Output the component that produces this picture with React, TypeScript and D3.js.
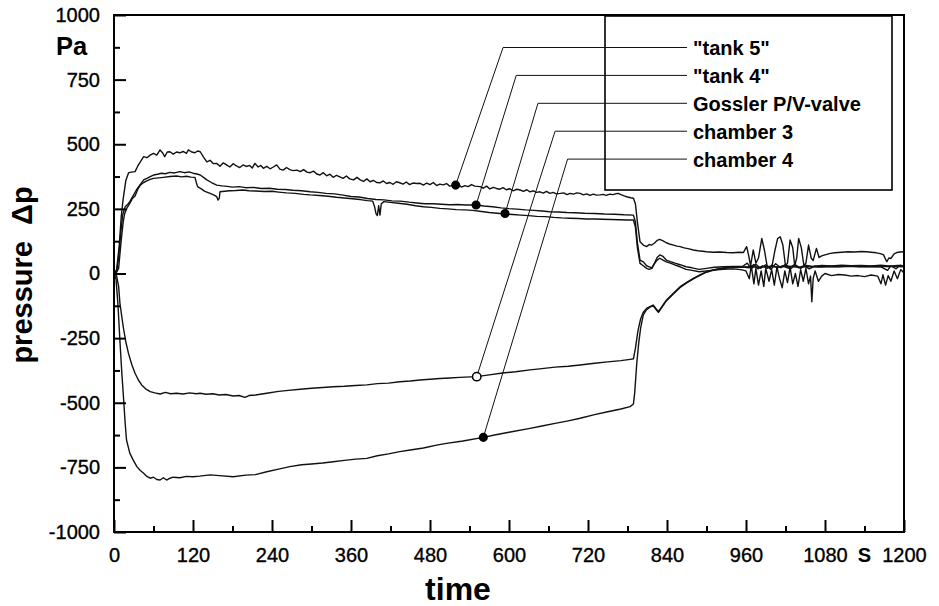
import React, { useEffect, useRef } from 'react';
import * as d3 from 'd3';

type Pt = [number, number];

// time (s), pressure (Pa)
const tank5: Pt[] = [
  [0, 0], [4, 15], [8, 110], [11, 220], [14, 290], [18, 360], [22, 389], [26, 392], [32, 394], [36, 415],
  [40, 432], [45, 452], [50, 448], [55, 458], [60, 465], [65, 458], [70, 478], [74, 466], [77, 452], [81, 470],
  [85, 471], [90, 462], [95, 470], [100, 467], [105, 472], [110, 465], [113, 478], [118, 470], [123, 467], [127, 474],
  [131, 471], [136, 450], [141, 432], [146, 438], [151, 425], [156, 426], [161, 415], [166, 428], [171, 420], [176, 412],
  [181, 425], [186, 416], [191, 410], [196, 420], [201, 414], [206, 418], [210, 408], [214, 426], [219, 412], [223, 418],
  [227, 407], [232, 415], [237, 405], [242, 412], [247, 420], [252, 404], [257, 400], [262, 410], [267, 402], [272, 398],
  [278, 400], [283, 394], [288, 402], [293, 392], [298, 390], [303, 396], [308, 385], [313, 381], [318, 390], [323, 378],
  [328, 384], [333, 372], [338, 380], [343, 374], [348, 368], [353, 377], [358, 366], [364, 362], [369, 372], [374, 362],
  [379, 356], [384, 366], [389, 355], [394, 360], [399, 352], [404, 351], [409, 358], [414, 348], [419, 352], [424, 345],
  [429, 355], [434, 351], [439, 346], [444, 354], [449, 344], [454, 350], [460, 348], [465, 349], [470, 342], [475, 350],
  [480, 344], [485, 352], [490, 340], [495, 346], [500, 343], [505, 348], [510, 338], [518, 342], [523, 345], [528, 334],
  [533, 340], [538, 336], [543, 344], [548, 338], [556, 336], [561, 330], [566, 338], [571, 327], [576, 333], [581, 329],
  [586, 326], [591, 332], [596, 324], [601, 328], [606, 320], [612, 326], [617, 323], [622, 318], [627, 324], [632, 316],
  [637, 320], [642, 314], [647, 316], [652, 311], [657, 318], [662, 310], [667, 314], [672, 308], [678, 310], [683, 312],
  [688, 305], [693, 310], [698, 307], [703, 312], [708, 310], [713, 304], [718, 308], [723, 302], [728, 307], [733, 303],
  [738, 304], [743, 306], [748, 302], [753, 307], [758, 305], [763, 309], [766, 310], [770, 305], [775, 300], [780, 296],
  [785, 293], [789, 291], [792, 270], [795, 200], [799, 123], [804, 110], [809, 104], [813, 112], [817, 110], [821, 118],
  [825, 128], [829, 132], [834, 126], [839, 119], [845, 113], [850, 110], [855, 106], [860, 104], [866, 99], [872, 96],
  [880, 91], [887, 88], [894, 86], [900, 84], [910, 82], [920, 83], [931, 81], [940, 80], [950, 82], [956, 81],
  [959, 95], [961, 104], [964, 70], [967, 30], [971, 91], [975, 40], [979, 60], [984, 136], [988, 90], [992, 30],
  [996, 20], [1000, 35], [1004, 90], [1008, 135], [1012, 142], [1016, 110], [1020, 30], [1023, 40], [1027, 130], [1031, 100],
  [1034, 30], [1037, 60], [1040, 136], [1044, 100], [1048, 30], [1051, 40], [1055, 110], [1059, 60], [1062, 50], [1067, 97],
  [1071, 62], [1075, 68], [1080, 72], [1088, 78], [1095, 80], [1105, 82], [1115, 84], [1125, 83], [1135, 85], [1143, 84],
  [1150, 82], [1158, 80], [1164, 77], [1169, 72], [1172, 55], [1174, 46], [1177, 60], [1180, 58], [1185, 76], [1189, 81],
  [1194, 83], [1199, 84],
];

const tank4: Pt[] = [
  [0, 0], [4, 8], [7, 60], [10, 150], [13, 225], [17, 258], [21, 268], [24, 278], [29, 300], [34, 323],
  [40, 345], [45, 362], [50, 368], [55, 375], [60, 381], [66, 384], [72, 388], [78, 386], [85, 391], [92, 389],
  [100, 394], [107, 390], [114, 393], [120, 388], [126, 385], [131, 381], [136, 372], [141, 362], [148, 352], [156, 342],
  [164, 339], [172, 337], [180, 334], [190, 336], [200, 332], [212, 333], [224, 329], [236, 330], [248, 326], [260, 325],
  [272, 322], [285, 320], [298, 316], [310, 314], [322, 310], [335, 308], [348, 303], [360, 298], [372, 296], [385, 290],
  [398, 286], [410, 285], [422, 281], [435, 280], [448, 276], [460, 273], [472, 270], [485, 270], [497, 268], [510, 266],
  [522, 267], [535, 265], [550, 265], [562, 261], [575, 258], [588, 254], [600, 251], [612, 249], [625, 246], [638, 244],
  [650, 242], [662, 239], [675, 238], [688, 236], [700, 235], [715, 233], [730, 232], [745, 230], [760, 229], [775, 227],
  [789, 226], [792, 200], [795, 120], [799, 52], [804, 45], [809, 30], [813, 26], [817, 22], [821, 40], [825, 62],
  [829, 72], [834, 66], [839, 52], [845, 46], [852, 40], [860, 34], [869, 26], [878, 22], [889, 16], [900, 20],
  [912, 24], [925, 26], [940, 27], [955, 28], [962, 40], [968, 18], [975, 36], [982, 20], [990, 34], [998, 16],
  [1005, 38], [1013, 22], [1020, 36], [1028, 18], [1035, 34], [1043, 20], [1050, 32], [1060, 27], [1075, 31], [1090, 29],
  [1105, 32], [1120, 30], [1135, 31], [1150, 29], [1165, 32], [1180, 28], [1190, 31], [1199, 30],
];

const gossler: Pt[] = [
  [0, 0], [4, 5], [7, 20], [11, 130], [14, 200], [16, 230], [20, 255], [24, 271], [28, 290], [32, 300],
  [36, 325], [40, 342], [45, 352], [50, 358], [55, 364], [60, 368], [68, 370], [75, 372], [85, 375], [95, 377],
  [103, 374], [110, 376], [117, 373], [123, 372], [125, 352], [127, 336], [132, 328], [138, 318], [146, 310], [152, 303],
  [156, 297], [158, 284], [160, 292], [161, 316], [168, 318], [176, 320], [185, 321], [196, 323], [205, 320], [215, 319],
  [228, 317], [240, 318], [250, 315], [262, 312], [275, 310], [288, 306], [298, 304], [312, 302], [325, 299], [338, 295],
  [350, 292], [362, 289], [374, 286], [385, 282], [393, 280], [396, 256], [398, 232], [400, 224], [402, 262], [404, 226],
  [406, 270], [410, 278], [420, 275], [432, 272], [445, 268], [458, 262], [470, 258], [482, 256], [495, 252], [507, 250],
  [520, 247], [532, 246], [545, 244], [558, 240], [570, 236], [582, 233], [594, 230], [606, 228], [618, 226], [630, 224],
  [642, 221], [655, 220], [668, 217], [680, 215], [692, 214], [705, 213], [718, 211], [730, 211], [742, 210], [755, 209],
  [768, 208], [780, 207], [789, 207], [792, 180], [795, 100], [799, 39], [804, 30], [809, 20], [813, 16], [817, 20],
  [821, 38], [825, 52], [829, 59], [834, 52], [839, 45], [845, 40], [852, 33], [860, 26], [869, 16], [878, 12],
  [889, 7], [900, 10], [912, 13], [925, 16], [940, 18], [952, 15], [960, 10], [965, -20], [968, 30], [972, -40],
  [975, 20], [979, -45], [983, 10], [987, -50], [990, 20], [995, -30], [999, 15], [1003, -45], [1007, 25], [1011, -20],
  [1015, -55], [1019, 10], [1023, -35], [1027, 25], [1031, -40], [1035, 0], [1039, -50], [1043, 15], [1047, -30], [1051, 20],
  [1055, -40], [1058, -10], [1060, -109], [1062, -20], [1065, 10], [1070, -30], [1075, -10], [1080, 0], [1090, -8], [1100, -4],
  [1110, -6], [1120, -10], [1130, -8], [1140, -12], [1150, -6], [1160, -10], [1165, -40], [1168, -5], [1172, -45], [1176, -8],
  [1180, -30], [1185, 10], [1190, -20], [1195, 15], [1199, 5],
];

const chamber3: Pt[] = [
  [0, 0], [4, -10], [7, -50], [9, -115], [12, -170], [14, -206], [18, -265], [22, -309], [27, -352], [32, -386],
  [37, -412], [42, -431], [48, -446], [55, -457], [62, -462], [70, -466], [78, -460], [86, -465], [95, -463], [105, -466],
  [115, -462], [125, -465], [131, -463], [140, -467], [150, -465], [160, -470], [170, -468], [181, -474], [190, -472], [199, -479],
  [205, -472], [215, -470], [232, -463], [250, -456], [265, -452], [283, -448], [300, -444], [317, -441], [333, -438], [350, -436],
  [367, -433], [384, -431], [400, -426], [417, -424], [434, -419], [450, -416], [465, -412], [480, -409], [495, -406], [510, -404],
  [525, -402], [551, -399], [570, -392], [590, -385], [610, -380], [632, -373], [650, -368], [670, -362], [690, -359], [708, -354],
  [730, -347], [750, -342], [770, -337], [784, -332], [789, -330], [792, -290], [796, -220], [800, -175], [804, -150], [809, -135],
  [814, -128], [819, -122], [823, -135], [827, -148], [833, -125], [839, -103], [850, -75], [860, -51], [870, -34], [880, -19],
  [890, -5], [900, 7], [910, 14], [920, 20], [935, 24], [950, 26], [965, 22], [972, 35], [978, 18], [985, 30],
  [992, 20], [1000, 32], [1008, 22], [1016, 30], [1025, 20], [1033, 34], [1040, 22], [1048, 30], [1056, 18], [1064, 28],
  [1075, 26], [1090, 28], [1105, 27], [1120, 29], [1135, 27], [1150, 28], [1165, 26], [1175, 12], [1180, 30], [1188, 18],
  [1194, 32], [1199, 28],
];

const chamber4: Pt[] = [
  [0, 0], [3, -20], [6, -120], [9, -260], [12, -390], [14, -463], [17, -580], [19, -644], [24, -695], [29, -721],
  [35, -748], [40, -762], [45, -773], [50, -785], [55, -792], [60, -788], [65, -797], [70, -799], [75, -790], [80, -799],
  [85, -792], [90, -788], [100, -790], [110, -785], [120, -786], [130, -784], [146, -779], [160, -782], [181, -786], [200, -780],
  [215, -778], [232, -767], [250, -757], [267, -747], [285, -740], [300, -737], [317, -733], [333, -728], [350, -723], [367, -718],
  [384, -715], [400, -705], [417, -698], [434, -689], [450, -683], [470, -675], [490, -664], [505, -657], [530, -648], [561, -634],
  [580, -624], [600, -614], [632, -599], [650, -590], [670, -580], [690, -570], [708, -560], [730, -546], [750, -535], [770, -524],
  [784, -515], [789, -505], [791, -460], [794, -350], [797, -270], [800, -210], [804, -160], [809, -140], [814, -130], [819, -125],
  [823, -138], [827, -150], [833, -128], [839, -106], [850, -78], [860, -54], [870, -36], [880, -21], [890, -7], [900, 5],
  [910, 12], [920, 18], [935, 22], [950, 24], [965, 26], [980, 24], [995, 27], [1010, 25], [1025, 28], [1040, 24],
  [1055, 27], [1070, 25], [1085, 27], [1100, 26], [1115, 28], [1130, 26], [1145, 27], [1160, 26], [1175, 28], [1190, 27],
  [1199, 26],
];

const seriesNames = ['"tank 5"', '"tank 4"', 'Gossler P/V-valve', 'chamber 3', 'chamber 4'];
const markTime = [519, 550, 594, 551, 561];
const markPressure = [342, 265, 232, -399, -634];
const elbowTime = [591, 611, 644, 670, 689];
const markOpen = [false, false, false, true, false];

const yMajor = [-1000, -750, -500, -250, 0, 250, 500, 750, 1000];
const yMinor = [-875, -625, -375, -125, 125, 375, 625, 875];
const xMajor = [0, 120, 240, 360, 480, 600, 720, 840, 960, 1080, 1200];
const xMinor = [60, 180, 300, 420, 540, 660, 780, 900, 1020, 1140];

const font = '"Liberation Sans", Arial, Helvetica, sans-serif';

export default function App() {
  const svgRef = useRef<SVGSVGElement>(null);

  useEffect(() => {
    const svg = d3.select(svgRef.current);
    svg.selectAll('*').remove();

    const x = d3.scaleLinear().domain([0, 1200]).range([114, 904]);
    const y = d3.scaleLinear().domain([-1000, 1000]).range([532, 15]);

    // curves
    const line = d3.line<Pt>().x(d => x(d[0])).y(d => y(d[1]));
    const curves = svg.append('g');
    [tank5, tank4, gossler, chamber3, chamber4].forEach(s => {
      curves.append('path')
        .attr('d', line(s))
        .attr('fill', 'none')
        .attr('stroke', '#111')
        .attr('stroke-width', 1.4)
        .attr('stroke-linejoin', 'round');
    });

    // axes, ticks pointing inward
    const axisStyle = (g: any) => {
      g.select('.domain').remove();
      g.selectAll('line').attr('stroke', '#000').attr('stroke-width', 2);
      g.selectAll('text')
        .attr('font-family', font).attr('font-size', 20).attr('fill', '#000')
        .attr('stroke', '#000').attr('stroke-width', 0.35);
    };
    const fmt = (d: any) => String(d);
    svg.append('g').attr('transform', 'translate(114,0)')
      .call(d3.axisLeft(y).tickValues(yMajor).tickSize(-12).tickPadding(14).tickFormat(fmt) as any)
      .call(axisStyle);
    svg.append('g').attr('transform', 'translate(114,0)')
      .call(d3.axisLeft(y).tickValues(yMinor).tickSize(-6).tickFormat(() => '') as any)
      .call(axisStyle);
    svg.append('g').attr('transform', 'translate(0,532)')
      .call(d3.axisBottom(x).tickValues(xMajor).tickSize(-12).tickPadding(16).tickFormat(fmt) as any)
      .call(axisStyle);
    svg.append('g').attr('transform', 'translate(0,532)')
      .call(d3.axisBottom(x).tickValues(xMinor).tickSize(-6).tickFormat(() => '') as any)
      .call(axisStyle);

    // frame
    svg.append('rect')
      .attr('x', 114).attr('y', 15).attr('width', 790).attr('height', 517)
      .attr('fill', 'none').attr('stroke', '#000').attr('stroke-width', 2);

    // legend box
    const legX = 605, legY = 16, legW = 287, legH = 174;
    svg.append('rect')
      .attr('x', legX).attr('y', legY).attr('width', legW).attr('height', legH)
      .attr('fill', 'none').attr('stroke', '#000').attr('stroke-width', 1.6);

    // leader lines and labels
    const ann = svg.append('g');
    seriesNames.forEach((name, i) => {
      const rowY = 47.5 + i * 27.9;
      const px = x(markTime[i]);
      const py = y(markPressure[i]);
      const ex = x(elbowTime[i]);
      ann.append('polyline')
        .attr('points', `${px},${py} ${ex},${rowY} 687,${rowY}`)
        .attr('fill', 'none').attr('stroke', '#111').attr('stroke-width', 1);
      ann.append('circle')
        .attr('cx', px).attr('cy', py).attr('r', markOpen[i] ? 4.2 : 3.8)
        .attr('fill', markOpen[i] ? '#fff' : '#000')
        .attr('stroke', '#000').attr('stroke-width', 1.5);
      ann.append('text')
        .attr('x', 693).attr('y', rowY + 7.5)
        .attr('font-family', font).attr('font-size', 20).attr('font-weight', 'bold')
        .text(name);
    });

    // units and axis titles
    svg.append('text').attr('x', 56).attr('y', 55)
      .attr('font-family', font).attr('font-size', 25.5).attr('font-weight', 'bold').text('Pa');
    svg.append('text').attr('x', x(1140)).attr('y', 562).attr('text-anchor', 'middle')
      .attr('font-family', font).attr('font-size', 20).attr('font-weight', 'bold').text('S');
    svg.append('text').attr('x', 458).attr('y', 600).attr('text-anchor', 'middle')
      .attr('font-family', font).attr('font-size', 32).attr('font-weight', 'bold').text('time');
    svg.append('text')
      .attr('transform', 'translate(32,275) rotate(-90)')
      .attr('text-anchor', 'middle')
      .attr('font-family', font).attr('font-size', 29).attr('font-weight', 'bold')
      .attr('xml:space', 'preserve')
      .text('pressure  Δp');
  }, []);

  return (
    <svg
      ref={svgRef}
      width={939}
      height={606}
      style={{ position: 'absolute', left: 0, top: 0, background: '#fff' }}
    />
  );
}
